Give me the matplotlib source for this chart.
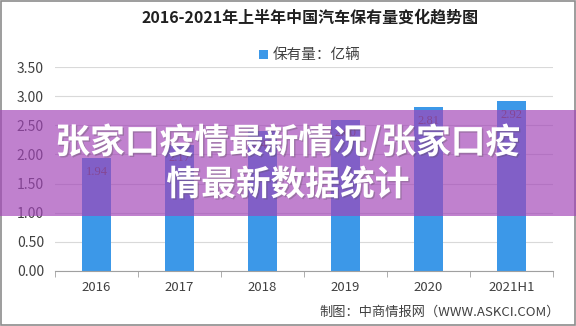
import matplotlib

matplotlib.use("Agg")
import matplotlib.pyplot as plt
from matplotlib.patches import Rectangle
import matplotlib.patheffects as pe

plt.rcParams["font.family"] = ["Noto Sans CJK SC", "DejaVu Sans"]

# データ
years = ["2016", "2017", "2018", "2019", "2020", "2021H1"]
ownership = [1.94, 2.17, 2.40, 2.60, 2.81, 2.92]
y_ticks = [0.0, 0.5, 1.0, 1.5, 2.0, 2.5, 3.0, 3.5]

title = "2016-2021年上半年中国汽车保有量变化趋势图"
legend_label = "保有量：亿辆"
source = "制图：中商情报网（WWW.ASKCI.COM）"
overlay_text = "张家口疫情最新情况/张家口疫\n情最新数据统计"

bar_color = "#3c98e8"

fig = plt.figure(figsize=(5.76, 3.26), dpi=100)
ax = fig.add_axes([0.0955, 0.169, 0.8645, 0.625])

x = range(len(years))
bars = ax.bar(x, ownership, width=0.35, color=bar_color, zorder=2, label=legend_label)

# 値ラベル（バー上端の少し内側）
for i, v in enumerate(ownership):
    ax.annotate(
        f"{v:.2f}",
        xy=(i, v),
        xytext=(0, -10),
        textcoords="offset points",
        ha="center",
        va="center",
        fontsize=9,
        color="#4a4a4a",
        family=["Liberation Serif", "DejaVu Serif"],
        zorder=3,
    )

ax.set_xlim(-0.5, len(years) - 0.5)
ax.set_ylim(0, 3.5)
ax.set_yticks(y_ticks)
ax.set_yticklabels([f"{t:.2f}" for t in y_ticks], fontsize=10, color="#404040")
ax.set_xticks(list(x))
ax.set_xticklabels(years, fontsize=9.5, color="#404040")
ax.tick_params(axis="y", length=0, pad=8)
ax.tick_params(axis="x", length=0, pad=7)

# カテゴリ境界の目盛り
ax.set_xticks([i - 0.5 for i in range(len(years) + 1)], minor=True)
ax.tick_params(axis="x", which="minor", length=4, color="#a0a0a0")

ax.grid(axis="y", color="#d9d9d9", linewidth=0.8, zorder=0)
for s in ["top", "right", "left"]:
    ax.spines[s].set_visible(False)
ax.spines["bottom"].set_color("#a0a0a0")
ax.set_axisbelow(True)

fig.text(0.538, 0.945, title, ha="center", va="center", fontsize=11.5,
         fontweight="bold", color="#202020")
ax.legend(loc="center", bbox_to_anchor=(0.538, 0.83), bbox_transform=fig.transFigure,
          frameon=False, fontsize=10.5, handlelength=0.6, handleheight=0.6,
          handletextpad=0.3, labelcolor="#404040")
fig.text(0.972, 0.043, source, ha="right", va="center", fontsize=9.5, color="#404040")

# 外枠
fig.patches.append(Rectangle((0.002, 0.003), 0.996, 0.994, transform=fig.transFigure,
                             fill=False, edgecolor="#8c8c8c", linewidth=1.2))

# 半透明の帯とテキスト
fig.patches.append(Rectangle((0, 0.337), 1, 0.325, transform=fig.transFigure,
                             facecolor="#a245b8", alpha=0.68, edgecolor="none", zorder=5))
fig.text(0.5, 0.5, overlay_text, ha="center", va="center", fontsize=25,
         fontweight="heavy", color="white", linespacing=1.25, zorder=6,
         path_effects=[pe.withSimplePatchShadow(offset=(1, -1), alpha=0.3)])

plt.savefig("out.png", dpi=100)
plt.close()
